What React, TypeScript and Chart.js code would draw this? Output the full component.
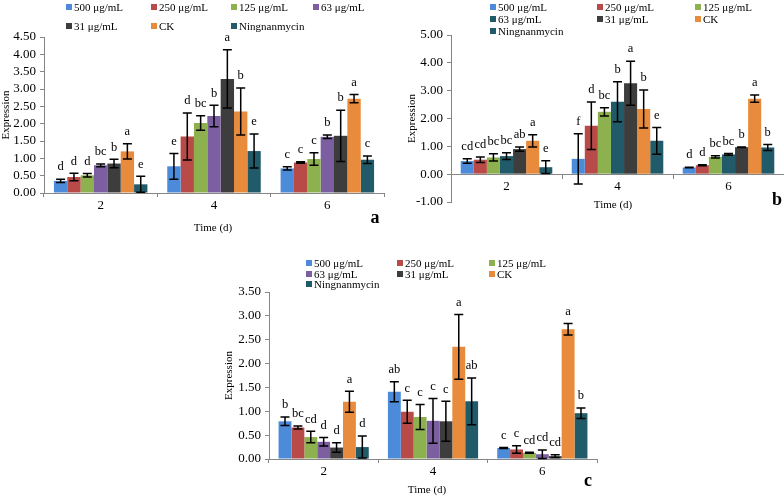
import React, { useEffect, useRef } from 'react';
import { Chart, registerables } from 'chart.js';

Chart.register(...registerables);

const FONT = "'Liberation Serif', 'Times New Roman', serif";

const categories = ['2', '4', '6'];
const seriesNames = ['500 μg/mL', '250 μg/mL', '125 μg/mL', '63 μg/mL', '31 μg/mL', 'CK', 'Ningnanmycin'];
const seriesColors = ['#4C8BD9', '#B84B48', '#8DB14F', '#7B5FA0', '#3D3D3D', '#E98B3C', '#215B6A'];
const seriesColorsB = ['#4C8BD9', '#B84B48', '#8DB14F', '#215B6A', '#3D3D3D', '#E98B3C', '#215B6A'];

// Panel a (rows = series, columns = time points 2, 4, 6)
const meansA = [
  [0.35, 0.77, 0.71],
  [0.46, 1.63, 0.88],
  [0.51, 2.02, 0.98],
  [0.80, 2.22, 1.62],
  [0.85, 3.29, 1.65],
  [1.20, 2.35, 2.72],
  [0.25, 1.21, 0.96],
];
const errorsA = [
  [0.05, 0.37, 0.05],
  [0.11, 0.68, 0.02],
  [0.05, 0.21, 0.18],
  [0.04, 0.31, 0.05],
  [0.12, 0.84, 0.74],
  [0.22, 0.68, 0.12],
  [0.23, 0.49, 0.11],
];
const lettersA = [
  ['d', 'e', 'c'],
  ['d', 'd', 'c'],
  ['d', 'bc', 'c'],
  ['bc', 'b', 'b'],
  ['b', 'a', 'b'],
  ['a', 'b', 'a'],
  ['e', 'e', 'c'],
];

// Panel b
const meansB = [
  [0.47, 0.55, 0.24],
  [0.52, 1.74, 0.32],
  [0.60, 2.24, 0.62],
  [0.65, 2.60, 0.71],
  [0.90, 3.27, 0.97],
  [1.20, 2.34, 2.71],
  [0.25, 1.20, 0.96],
];
const errorsB = [
  [0.08, 0.90, 0.01],
  [0.10, 0.85, 0.02],
  [0.13, 0.15, 0.04],
  [0.12, 0.72, 0.03],
  [0.08, 0.79, 0.01],
  [0.22, 0.68, 0.13],
  [0.23, 0.48, 0.11],
];
const lettersB = [
  ['cd', 'f', 'd'],
  ['cd', 'd', 'd'],
  ['bc', 'bc', 'bc'],
  ['bc', 'b', 'bc'],
  ['ab', 'a', 'b'],
  ['a', 'b', 'a'],
  ['e', 'e', 'b'],
];

// Panel c
const meansC = [
  [0.79, 1.41, 0.23],
  [0.66, 0.99, 0.20],
  [0.46, 0.88, 0.13],
  [0.36, 0.80, 0.10],
  [0.24, 0.79, 0.06],
  [1.20, 2.35, 2.72],
  [0.25, 1.21, 0.96],
];
const errorsC = [
  [0.09, 0.21, 0.01],
  [0.03, 0.24, 0.08],
  [0.12, 0.26, 0.01],
  [0.09, 0.47, 0.09],
  [0.10, 0.42, 0.03],
  [0.22, 0.68, 0.12],
  [0.23, 0.49, 0.11],
];
const lettersC = [
  ['b', 'ab', 'c'],
  ['bc', 'c', 'c'],
  ['cd', 'c', 'cd'],
  ['d', 'c', 'cd'],
  ['d', 'c', 'cd'],
  ['a', 'a', 'a'],
  ['d', 'ab', 'b'],
];

type PanelProps = {
  left: number; top: number; width: number; height: number;
  means: number[][]; errors: number[][]; letters: string[][]; colors: string[];
  yMin: number; yMax: number; yStep: number;
  yAxisWidth: number; padTop: number; padRight: number; padBottom: number; xAxisHeight: number;
  xAtZero: boolean;
  xTitleX: number; xTitleY: number; tag: string; tagX: number; tagY: number;
};

function Panel(p: PanelProps) {
  const ref = useRef<HTMLCanvasElement | null>(null);
  useEffect(() => {
    if (!ref.current) return;
    const extras = {
      id: 'panelExtras',
      afterDatasetsDraw(chart: any) {
        const ctx = chart.ctx;
        const ys = chart.scales.y;
        ctx.save();
        chart.data.datasets.forEach((ds: any, i: number) => {
          const meta = chart.getDatasetMeta(i);
          meta.data.forEach((bar: any, j: number) => {
            const m = ds.data[j];
            const e = p.errors[i][j];
            const yt = ys.getPixelForValue(m + e);
            const yb = ys.getPixelForValue(m - e);
            const x = bar.x;
            ctx.strokeStyle = '#000';
            ctx.lineWidth = 1.5;
            ctx.beginPath();
            ctx.moveTo(x, yt); ctx.lineTo(x, yb);
            ctx.moveTo(x - 4.5, yt); ctx.lineTo(x + 4.5, yt);
            ctx.moveTo(x - 4.5, yb); ctx.lineTo(x + 4.5, yb);
            ctx.stroke();
            ctx.fillStyle = '#000';
            ctx.font = `12.5px ${FONT}`;
            ctx.textAlign = 'center';
            ctx.textBaseline = 'middle';
            const topPx = Math.min(yt, ys.getPixelForValue(m));
            ctx.fillText(p.letters[i][j], x, topPx - 12);
          });
        });
        ctx.fillStyle = '#000';
        ctx.textAlign = 'center';
        ctx.textBaseline = 'middle';
        ctx.font = `11px ${FONT}`;
        ctx.fillText('Time (d)', p.xTitleX, p.xTitleY);
        ctx.font = `bold 18px ${FONT}`;
        ctx.fillText(p.tag, p.tagX, p.tagY);
        ctx.restore();
      },
    };
    const chart = new Chart(ref.current, {
      type: 'bar',
      data: {
        labels: categories,
        datasets: seriesNames.map((name, i) => ({
          label: name,
          data: p.means[i],
          backgroundColor: p.colors[i],
          borderWidth: 0,
          categoryPercentage: 0.825,
          barPercentage: 1,
        })),
      },
      options: {
        responsive: false,
        animation: false,
        layout: { padding: { left: 0, top: p.padTop, right: p.padRight, bottom: p.padBottom } },
        plugins: { legend: { display: false }, tooltip: { enabled: false } },
        scales: {
          x: {
            position: p.xAtZero ? ({ y: 0 } as any) : 'bottom',
            afterFit: (s: any) => { s.height = p.xAxisHeight; },
            grid: { drawOnChartArea: false, drawTicks: true, tickLength: 4, color: '#868686', offset: true },
            border: { color: '#868686', width: 1 },
            ticks: { color: '#000', font: { family: FONT, size: 13 }, padding: 1 },
          },
          y: {
            min: p.yMin,
            max: p.yMax,
            afterFit: (s: any) => { s.width = p.yAxisWidth; },
            grid: { drawOnChartArea: false, drawTicks: true, tickLength: 4, color: '#868686' },
            border: { color: '#868686', width: 1 },
            ticks: {
              stepSize: p.yStep,
              autoSkip: false,
              maxTicksLimit: 30,
              color: '#000',
              font: { family: FONT, size: 13, lineHeight: 1 },
              padding: 4,
              callback: (v: any) => Number(v).toFixed(2),
            },
            title: {
              display: true,
              text: 'Expression',
              color: '#000',
              font: { family: FONT, size: 11 },
              padding: 0,
            },
          },
        },
      },
      plugins: [extras],
    });
    return () => chart.destroy();
  }, []);
  return (
    <canvas
      ref={ref}
      width={p.width}
      height={p.height}
      style={{ position: 'absolute', left: p.left, top: p.top, width: p.width, height: p.height }}
    />
  );
}

type LegendProps = { cols: number[]; rows: number[]; colors: string[] };

function Legend({ cols, rows, colors }: LegendProps) {
  return (
    <>
      {seriesNames.map((name, i) => {
        const c = i % cols.length;
        const r = Math.floor(i / cols.length);
        return (
          <div
            key={name}
            style={{
              position: 'absolute',
              left: cols[c],
              top: rows[r] - 7,
              height: 14,
              display: 'flex',
              alignItems: 'center',
              fontFamily: FONT,
              fontSize: 11,
              color: '#000',
              whiteSpace: 'nowrap',
              zIndex: 2,
            }}
          >
            <span style={{ display: 'inline-block', width: 6, height: 6, background: colors[i], marginRight: 2 }} />
            <span>{name}</span>
          </div>
        );
      })}
    </>
  );
}

export default function App() {
  return (
    <div style={{ position: 'absolute', left: 0, top: 0, width: 784, height: 498, background: '#fff', overflow: 'hidden' }}>
      <Panel
        left={0} top={0} width={392} height={240}
        means={meansA} errors={errorsA} letters={lettersA} colors={seriesColors}
        yMin={0} yMax={4.5} yStep={0.5}
        yAxisWidth={44} padTop={37} padRight={8} padBottom={27} xAxisHeight={20} xAtZero={false}
        xTitleX={213} xTitleY={228} tag="a" tagX={375} tagY={218}
      />
      <Panel
        left={406} top={0} width={378} height={240}
        means={meansB} errors={errorsB} letters={lettersB} colors={seriesColorsB}
        yMin={-1} yMax={5} yStep={1}
        yAxisWidth={45} padTop={35} padRight={0} padBottom={38} xAxisHeight={20} xAtZero={true}
        xTitleX={207} xTitleY={205} tag="b" tagX={371} tagY={200}
      />
      <Panel
        left={223} top={240} width={383} height={258}
        means={meansC} errors={errorsC} letters={lettersC} colors={seriesColors}
        yMin={0} yMax={3.5} yStep={0.5}
        yAxisWidth={46} padTop={52} padRight={9} padBottom={19} xAxisHeight={20} xAtZero={false}
        xTitleX={204} xTitleY={250} tag="c" tagX={365} tagY={241}
      />
      <Legend cols={[66, 151, 231, 313]} rows={[7, 26]} colors={seriesColors} />
      <Legend cols={[490, 597, 695]} rows={[7, 19, 31]} colors={seriesColorsB} />
      <Legend cols={[306, 397, 489]} rows={[263, 273.5, 284]} colors={seriesColors} />
    </div>
  );
}
